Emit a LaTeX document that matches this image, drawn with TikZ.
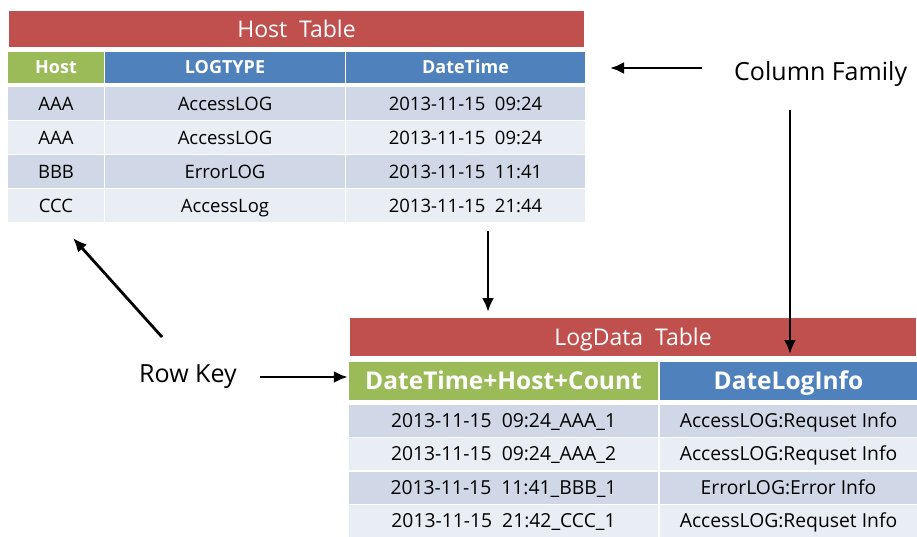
\documentclass[tikz,border=0pt]{standalone}
\usepackage{fontspec}
\setmainfont{Open Sans}
\usetikzlibrary{arrows.meta}
\definecolor{tred}{HTML}{C0504D}
\definecolor{tgreen}{HTML}{9BBB59}
\definecolor{tblue}{HTML}{4F81BD}
\definecolor{rowdark}{HTML}{D0D8E8}
\definecolor{rowlight}{HTML}{E9EDF4}
\tikzset{
  cell/.style={draw=white, line width=1.5pt, inner sep=0pt, minimum height=#1, text depth=0pt},
  cell/.default=34pt,
  titlecell/.style={cell=38pt, fill=tred, text=white, font=\fontsize{23}{26}\selectfont, text height=16.4pt},
  headcell/.style={cell=33pt, text=white, font=\fontsize{18}{20}\selectfont\bfseries, text height=12.9pt},
  bigheadcell/.style={cell=40pt, text=white, font=\fontsize{24.5}{27}\selectfont\bfseries, text height=17.5pt},
  bodycell/.style={cell=34pt, font=\fontsize{18.5}{21}\selectfont, text height=13.2pt},
  logbodycell/.style={cell=33.5pt, font=\fontsize{19.3}{22}\selectfont, text height=13.8pt},
  label/.style={inner sep=1pt, font=\fontsize{25}{28}\selectfont},
  arr/.style={line width=2.8pt, -{Latex[length=14pt,width=12pt]}},
}
\begin{document}
\begin{tikzpicture}[x=1pt,y=-1pt]
\useasboundingbox (0,0) rectangle (917,537);
% Host table
\node[titlecell, minimum width=577pt] (ht) at (296.5,29) {Host\ \ Table};
\node[headcell, fill=tgreen, minimum width=97pt] (hh1) at (56,67.5) {Host};
\node[headcell, fill=tblue, minimum width=241pt] (hh2) at (225,67.5) {LOGTYPE};
\node[headcell, fill=tblue, minimum width=240pt] (hh3) at (465.5,67.5) {DateTime};
\foreach \y/\c/\a/\b/\d [count=\i] in {
  103.5/rowdark/AAA/AccessLOG/2013-11-15\ \ 09:24,
  137.5/rowlight/AAA/AccessLOG/2013-11-15\ \ 09:24,
  171.5/rowdark/BBB/ErrorLOG/2013-11-15\ \ 11:41,
  205.5/rowlight/CCC/AccessLog/2013-11-15\ \ 21:44}{
  \node[bodycell, fill=\c, minimum width=97pt] (h\i a) at (56,\y) {\a};
  \node[bodycell, fill=\c, minimum width=241pt] (h\i b) at (225,\y) {\b};
  \node[bodycell, fill=\c, minimum width=240pt] (h\i c) at (465.5,\y) {\d};
}
% LogData table
\node[titlecell, cell=40pt, minimum width=568pt] (lt) at (633,337) {LogData\ \ Table};
\node[bigheadcell, fill=tgreen, minimum width=310pt] (lh1) at (503.5,381) {DateTime+Host+Count};
\node[bigheadcell, fill=tblue, minimum width=258pt] (lh2) at (788.5,381) {DateLogInfo};
\foreach \y/\c/\a/\b [count=\i] in {
  420.5/rowdark/2013-11-15\ \ 09:24\_AAA\_1/AccessLOG:Requset Info,
  454/rowlight/2013-11-15\ \ 09:24\_AAA\_2/AccessLOG:Requset Info,
  487.5/rowdark/2013-11-15\ \ 11:41\_BBB\_1/ErrorLOG:Error Info,
  521/rowlight/2013-11-15\ \ 21:42\_CCC\_1/AccessLOG:Requset Info}{
  \node[logbodycell, fill=\c, minimum width=310pt] (l\i a) at (503.5,\y) {\a};
  \node[logbodycell, fill=\c, minimum width=258pt] (l\i b) at (788.5,\y) {\b};
}
% labels
\node[label, anchor=west] (cf) at (733,74) {Column Family};
\node[label, anchor=west] (rk) at (138,377) {Row Key};
% coordinates
\coordinate (cfa) at (702,68);
\coordinate (cfb) at (610,68);
\coordinate (cfc) at (790,110);
\coordinate (cfd) at (790,354);
\coordinate (hta) at (488,231);
\coordinate (htb) at (488,312);
\coordinate (rka) at (260,377);
\coordinate (rkb) at (162,337);
\coordinate (rkc) at (73,238);
% arrows
\draw[arr] (cfa) -- (cfb);
\draw[arr] (cfc) -- (cfd);
\draw[arr] (hta) -- (htb);
\draw[arr] (rka) -- (rka -| lh1.west);
\draw[arr] (rkb) -- (rkc);
\end{tikzpicture}
\end{document}
